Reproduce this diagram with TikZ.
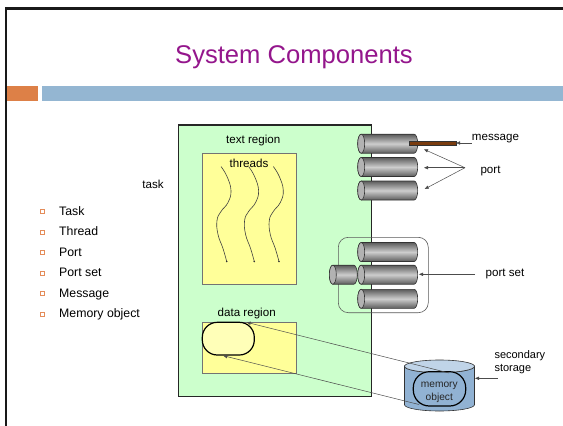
\documentclass[tikz,border=0pt]{standalone}
\usepackage{fontspec}
\setmainfont{Liberation Sans}
\usetikzlibrary{arrows.meta}

\definecolor{titlepurple}{RGB}{148,22,140}
\definecolor{barorange}{RGB}{221,128,71}
\definecolor{barblue}{RGB}{148,182,210}
\definecolor{taskgreen}{RGB}{204,255,204}
\definecolor{regionyellow}{RGB}{255,255,153}
\definecolor{msgbrown}{RGB}{122,60,15}
\definecolor{diskside}{RGB}{145,178,211}
\definecolor{disktop}{RGB}{192,212,232}
\definecolor{cyldark}{RGB}{92,92,92}
\definecolor{cyllight}{RGB}{205,205,205}
\definecolor{cylface}{RGB}{178,178,178}
\definecolor{bulletorange}{RGB}{228,140,90}

% horizontal cylinder: #1 = x of the left face centre, #2 = y of the axis, #3 = body length
\newcommand\portcylinder[3]{%
  \shadedraw[top color=cyldark, bottom color=cyldark, middle color=cyllight,
             draw=black!80, line width=0.6pt]
    (#1,#2-9.5) -- (#1+#3,#2-9.5) arc(-90:90:3.5 and 9.5)
    -- (#1,#2+9.5) arc(90:270:3.5 and 9.5) -- cycle;
  \filldraw[fill=cylface, draw=black!80, line width=0.6pt] (#1,#2) ellipse (3.5 and 9.5);
}

\begin{document}
\begin{tikzpicture}[x=1pt, y=-1pt,
  lbl/.style={font=\fontsize{11.6}{13}\selectfont, inner sep=0pt, anchor=base},
  item/.style={font=\fontsize{12.3}{14}\selectfont, inner sep=0pt, anchor=base west},
  bulletsq/.style={draw=bulletorange, line width=0.7pt, minimum size=4.3pt, inner sep=0pt},
  conn/.style={draw=black!70, line width=0.5pt, -{Triangle[length=4pt,width=3.2pt]}},
  thread/.style={draw=black!75, line width=0.6pt},
  stadium/.style={draw=black, line width=1.2pt, inner sep=0pt}]

\useasboundingbox (0,0) rectangle (563,426);
\fill[white] (0,0) rectangle (563,426);

% slide frame and header bars
\draw[black!90, line width=2.6pt] (5,8.6) -- (563,8.6);
\draw[black!90, line width=2.3pt] (6.2,7.4) -- (6.2,426);
\fill[barorange] (7.4,86) rectangle (38,100.7);
\fill[barblue] (42,86) rectangle (563,100.7);

\node[font=\fontsize{25.6}{30}\selectfont, text=titlepurple, inner sep=0pt, anchor=base]
  (title) at (294,63.3) {System Components};

% bullet list
\foreach \t/\y [count=\i] in {Task/215, Thread/235.5, Port/256, Port set/276.5,
                              Message/297, Memory object/317.5} {
  \node[bulletsq] (b\i) at (42.3,\y-3.4) {};
  \node[item] (it\i) at (59,\y) {\t};
}
\node[lbl] (tasklbl) at (153,188) {task};

% task with its regions
\filldraw[fill=taskgreen, draw=black!85, line width=1.1pt] (178.5,125) rectangle (371.5,396.8);
\node[lbl] (textreg) at (253.3,143) {text region};
\filldraw[fill=regionyellow, draw=black!55, line width=0.7pt] (202.3,153.3) rectangle (296.7,284.3);
\node[lbl] (threadslbl) at (249,167) {threads};

\foreach \x in {221,248.6,273.3} {
  \begin{scope}[shift={(\x,166.5)}]
    \draw[thread] plot[smooth, tension=0.75] coordinates
      {(0,0) (6,10) (10,24) (7,36) (0,45) (-4,54) (-3,68) (2,82) (5.7,95)};
    \fill[black!80] (5.7,95) circle (0.9);
  \end{scope}
}

\node[lbl] (datareg) at (246.7,316.7) {data region};
\filldraw[fill=regionyellow, draw=black!55, line width=0.7pt] (202.3,322.3) rectangle (296.7,373.3);
\node[stadium, fill=regionyellow!70!white, rounded corners=15pt,
      minimum width=52pt, minimum height=32.7pt] (dstad) at (228.3,338.65) {};

% port set outline
\draw[black!65, line width=0.6pt, rounded corners=10pt] (338.3,237.3) rectangle (428.3,312.7);

% ports
\portcylinder{361.2}{143.7}{53}
\portcylinder{361.2}{167}{53}
\portcylinder{361.2}{190.5}{53}
\portcylinder{361.2}{252}{53}
\portcylinder{332.8}{274.7}{21}
\portcylinder{361.2}{274.7}{53}
\portcylinder{361.2}{298.8}{53}

% message in the first port
\node[draw=black!80, line width=0.4pt, fill=msgbrown, inner sep=0pt,
      minimum width=46.7pt, minimum height=4.2pt] (msgbar) at (432.5,143) {};
\node[lbl] (msglbl) at (495.5,140.5) {message};
\draw[conn] (msglbl.west |- msgbar.east) -- (msgbar.east);

% port labels
\node[lbl] (portlbl) at (490.5,173.3) {port};
\coordinate (fork) at (465,167.7);
\coordinate (p1) at (424,149.3);
\coordinate (p2) at (424,167.7);
\coordinate (p3) at (424.7,189);
\foreach \p in {p1,p2,p3} \draw[conn] (fork) -- (\p);

\node[lbl] (psetlbl) at (505,276.7) {port set};
\coordinate (pseta) at (475,274.3);
\coordinate (psetb) at (419,274.3);
\draw[conn] (pseta) -- (psetb);

% secondary storage
\filldraw[fill=diskside, draw=black!80, line width=0.6pt]
  (404.5,366.3) -- (404.5,404.7) arc(180:0:35 and 6.3) -- (474.5,366.3) arc(0:180:35 and 6.3) -- cycle;
\filldraw[fill=disktop, draw=black!80, line width=0.6pt] (439.5,366.3) ellipse (35 and 6.3);
\node[stadium, fill=diskside, rounded corners=16pt,
      minimum width=52.4pt, minimum height=34.3pt] (mem) at (439.5,388.85) {};
\node[font=\fontsize{10.2}{12}\selectfont, inner sep=0pt, anchor=base, text=black!85] (memt1) at (439.3,387) {memory};
\node[font=\fontsize{10.2}{12}\selectfont, inner sep=0pt, anchor=base, text=black!85] (memt2) at (439.3,400.3) {object};

\node[font=\fontsize{11}{13}\selectfont, inner sep=0pt, anchor=base west] (sec1) at (494.3,358.3) {secondary};
\node[font=\fontsize{11}{13}\selectfont, inner sep=0pt, anchor=base west] (sec2) at (494.3,371.7) {storage};
\coordinate (seca) at (497.7,378.3);
\coordinate (secb) at (475,378.3);
\draw[conn] (seca) -- (secb);

% mapping of the memory object into the data region
\coordinate (mtop) at (449,373);
\coordinate (mbot) at (419,404.5);
\coordinate (dtop) at (246.7,322.3);
\coordinate (dbot) at (223.3,355.7);
\draw[conn] (mtop) -- (dtop);
\draw[conn] (mbot) -- (dbot);

\end{tikzpicture}
\end{document}
